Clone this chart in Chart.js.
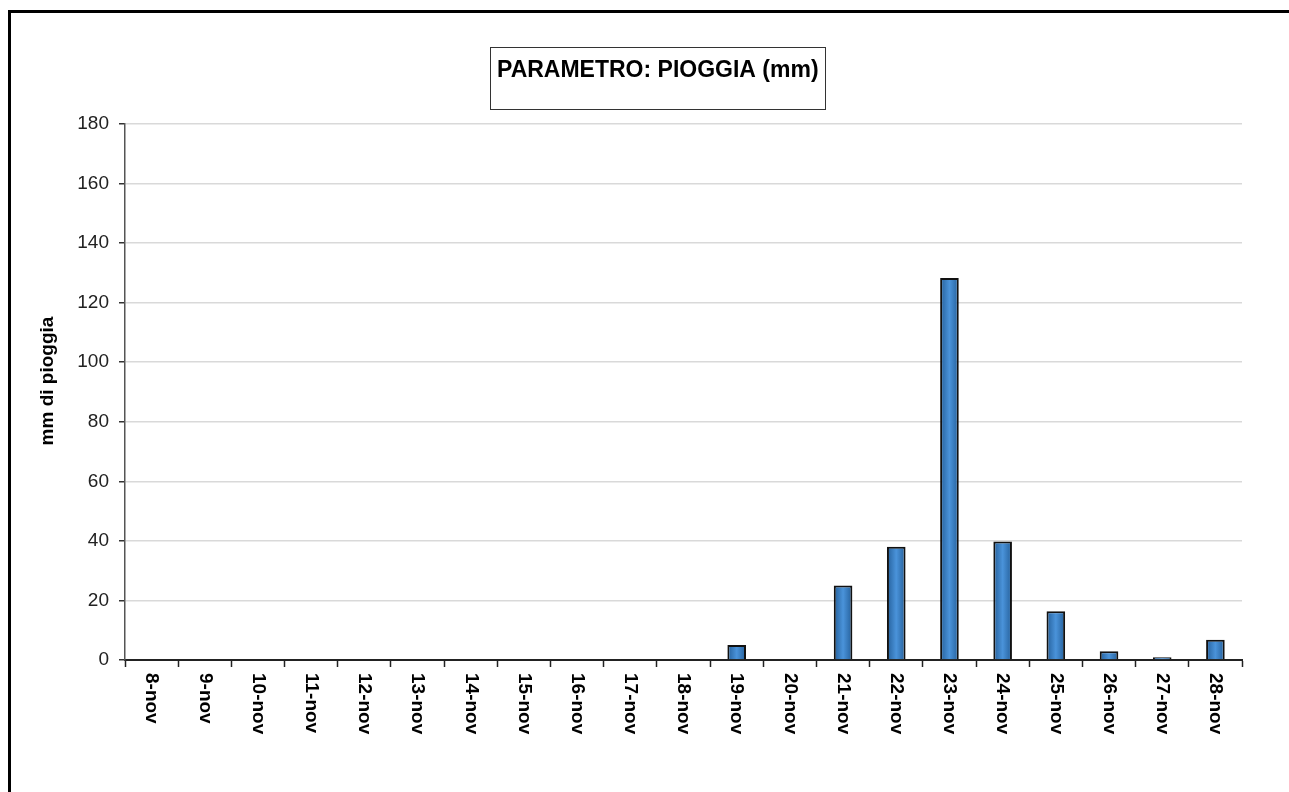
<!DOCTYPE html>
<html>
<head>
<meta charset="utf-8">
<script src="https://cdn.jsdelivr.net/npm/chart.js@4/dist/chart.umd.min.js"></script>
<style>
    html, body { margin: 0; padding: 0; background: #fff; }
    #wrap { width: 1289px; height: 792px; position: relative; }
</style>
</head>
<body>
<div id="wrap"><canvas id="chart1" width="1289" height="792"></canvas></div>
<script>
const days = ['8-nov', '9-nov', '10-nov', '11-nov', '12-nov', '13-nov', '14-nov', '15-nov', '16-nov', '17-nov',
    '18-nov', '19-nov', '20-nov', '21-nov', '22-nov', '23-nov', '24-nov', '25-nov', '26-nov', '27-nov', '28-nov'];
const rainMm = [0, 0, 0, 0, 0, 0, 0, 0, 0, 0.3, 0, 5, 0, 25, 38, 128.3, 39.8, 16.4, 2.9, 0.9, 6.8];
const yTicks = [0, 20, 40, 60, 80, 100, 120, 140, 160, 180];
const chartTitle = 'PARAMETRO: PIOGGIA (mm)';
const yTitle = 'mm di pioggia';

const BAR_PCT = 0.35;

function barFill(ctx) {
    const chart = ctx.chart;
    if (!chart.chartArea || ctx.type !== 'data') return '#3a7fc4';
    const xs = chart.scales.x;
    const x = xs.getPixelForValue(ctx.dataIndex);
    const half = xs.width / days.length * BAR_PCT / 2;
    const g = chart.ctx.createLinearGradient(x - half, 0, x + half, 0);
    g.addColorStop(0, '#245f9a');
    g.addColorStop(0.5, '#4a93da');
    g.addColorStop(1, '#245f9a');
    return g;
}

// frame, title box, rotated labels
const decor = {
    id: 'decor',
    beforeDraw(chart) {
        const c = chart.ctx;
        c.save();
        c.fillStyle = '#fff';
        c.fillRect(0, 0, chart.width, chart.height);
        c.restore();
    },
    afterDraw(chart) {
        const c = chart.ctx;
        c.save();
        // outer frame
        c.fillStyle = '#000';
        c.fillRect(8, 10, 3, chart.height - 10);
        c.fillRect(8, 10, chart.width - 8, 3);

        // title box
        c.strokeStyle = '#333';
        c.lineWidth = 1;
        c.strokeRect(490.5, 47.5, 335, 62);
        c.fillStyle = '#000';
        c.font = 'bold 23px "Liberation Sans", Arial, sans-serif';
        c.textAlign = 'left';
        c.textBaseline = 'alphabetic';
        c.fillText(chartTitle, 497, 77);

        // y axis title
        c.save();
        c.translate(48, 381);
        c.rotate(-Math.PI / 2);
        c.textAlign = 'center';
        c.textBaseline = 'middle';
        c.font = 'bold 19px "Liberation Sans", Arial, sans-serif';
        c.fillText(yTitle, 0, 0);
        c.restore();

        // x labels, read top to bottom
        const xs = chart.scales.x;
        c.font = 'bold 19px "Liberation Sans", Arial, sans-serif';
        c.textAlign = 'left';
        c.textBaseline = 'middle';
        days.forEach(function (d, i) {
            c.save();
            c.translate(xs.getPixelForTick(i), 673);
            c.rotate(Math.PI / 2);
            c.fillText(d, 0, 0);
            c.restore();
        });
        c.restore();
    }
};

const config = {
    type: 'bar',
    data: {
        labels: days,
        datasets: [{
            data: rainMm,
            backgroundColor: barFill,
            borderColor: '#111',
            borderWidth: 2,
            barPercentage: BAR_PCT,
            categoryPercentage: 1.0
        }]
    },
    options: {
        responsive: false,
        animation: false,
        layout: {
            padding: { top: 124, right: 47, left: 0, bottom: 0 }
        },
        scales: {
            x: {
                afterFit: function (s) { s.height = 132; },
                ticks: { display: false },
                grid: {
                    offset: true,
                    drawOnChartArea: false,
                    drawTicks: true,
                    tickLength: 7,
                    tickColor: '#222',
                    tickWidth: 1.5
                },
                border: { color: '#222', width: 2 }
            },
            y: {
                min: 0,
                max: 180,
                afterFit: function (s) { s.width = 125; },
                afterBuildTicks: function (s) { s.ticks = yTicks.map(v => ({ value: v })); },
                ticks: {
                    color: '#222',
                    padding: 10,
                    font: { family: '"Liberation Sans", Arial, sans-serif', size: 19 }
                },
                grid: {
                    color: '#d9d9d9',
                    lineWidth: 1.5,
                    tickColor: '#333',
                    tickLength: 6
                },
                border: { color: '#555', width: 1.5 }
            }
        },
        plugins: {
            legend: { display: false },
            title: { display: false },
            tooltip: { enabled: false }
        }
    },
    plugins: [decor]
};

var rainChart = new Chart(
    document.getElementById('chart1'),
    config
);
</script>
</body>
</html>
